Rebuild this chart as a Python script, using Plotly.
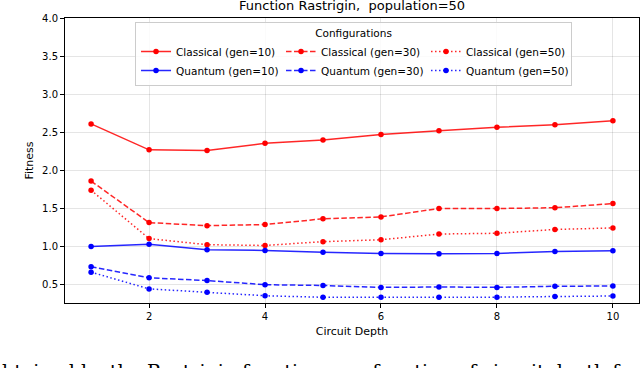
import plotly.graph_objects as go

depth = [1, 2, 3, 4, 5, 6, 7, 8, 9, 10]

classical_gen10 = [2.61, 2.27, 2.26, 2.355, 2.40, 2.47, 2.52, 2.565, 2.60, 2.65]
classical_gen30 = [1.86, 1.315, 1.275, 1.29, 1.365, 1.39, 1.50, 1.50, 1.51, 1.565]
classical_gen50 = [1.74, 1.105, 1.025, 1.015, 1.065, 1.09, 1.165, 1.175, 1.225, 1.245]
quantum_gen10 = [1.00, 1.03, 0.96, 0.95, 0.925, 0.91, 0.905, 0.91, 0.935, 0.945]
quantum_gen30 = [0.735, 0.59, 0.555, 0.50, 0.49, 0.465, 0.47, 0.465, 0.48, 0.483]
quantum_gen50 = [0.665, 0.445, 0.40, 0.355, 0.335, 0.335, 0.335, 0.337, 0.345, 0.352]

x_ticks = [2, 4, 6, 8, 10]
y_ticks = [0.5, 1.0, 1.5, 2.0, 2.5, 3.0, 3.5, 4.0]

series = [
    ("Classical (gen=10)", classical_gen10, "rgba(255,0,0,0.85)", "red", "solid"),
    ("Classical (gen=30)", classical_gen30, "rgba(255,0,0,0.85)", "red", "5.5px,2.5px"),
    ("Classical (gen=50)", classical_gen50, "rgba(255,0,0,0.85)", "red", "1.5px,2.5px"),
    ("Quantum (gen=10)", quantum_gen10, "rgba(0,0,255,0.85)", "blue", "solid"),
    ("Quantum (gen=30)", quantum_gen30, "rgba(0,0,255,0.85)", "blue", "5.5px,2.5px"),
    ("Quantum (gen=50)", quantum_gen50, "rgba(0,0,255,0.85)", "blue", "1.5px,2.5px"),
]

font_family = "DejaVu Sans"

fig = go.Figure()
for name, vals, lc, mc, dash in series:
    fig.add_trace(go.Scatter(
        x=depth, y=vals, name=name, mode="lines+markers",
        line=dict(color=lc, width=1.5, dash=dash),
        marker=dict(color=mc, size=5.5, symbol="circle"),
    ))

axis_common = dict(
    showline=True, linecolor="black", linewidth=1, mirror=True,
    ticks="outside", ticklen=4, tickcolor="black", tickwidth=1,
    showgrid=True, gridcolor="rgba(0,0,0,0.1)", gridwidth=1,
    zeroline=False, tickfont=dict(family=font_family, size=10, color="black"),
)

fig.update_xaxes(range=[0.55, 10.45], tickvals=x_ticks,
                 ticktext=[str(v) for v in x_ticks],
                 title=dict(text="Circuit Depth", standoff=6,
                            font=dict(family=font_family, size=11, color="black")),
                 **axis_common)
fig.update_yaxes(range=[0.26, 4.0], tickvals=y_ticks,
                 ticktext=[f"{v:.1f}" for v in y_ticks],
                 title=dict(text="Fitness", standoff=6,
                            font=dict(family=font_family, size=11, color="black")),
                 **axis_common)

fig.update_layout(
    width=640, height=368,
    margin=dict(l=65, r=1, t=18, b=65),
    plot_bgcolor="white", paper_bgcolor="white",
    font=dict(family=font_family, color="black"),
    legend=dict(
        orientation="h", x=0.122, y=0.985, xanchor="left", yanchor="top",
        entrywidth=100, entrywidthmode="pixels",
        bgcolor="rgba(255,255,255,0.85)", bordercolor="#cccccc", borderwidth=1,
        font=dict(family=font_family, size=10.5, color="black"),
        title=dict(text="Configurations", side="top center",
                   font=dict(family=font_family, size=10.5, color="black")),
        tracegroupgap=0, itemwidth=30,
    ),
    showlegend=True,
    annotations=[
        dict(text="Function Rastrigin, \u00a0population=50", xref="paper", yref="paper",
             x=0.5, y=1.0, yshift=13, xanchor="center", yanchor="middle",
             showarrow=False, font=dict(family=font_family, size=13, color="black")),
        dict(text="btained by the Rastrigin function as a function of circuit depth for",
             xref="paper", yref="paper", x=0, xshift=-65, y=0, yshift=-55,
             xanchor="left", yanchor="top", showarrow=False,
             font=dict(family="DejaVu Serif", size=19, color="black")),
    ],
)

fig.write_html("out.html", config={"displayModeBar": False},
               post_script="document.body.style.margin='0px';")
